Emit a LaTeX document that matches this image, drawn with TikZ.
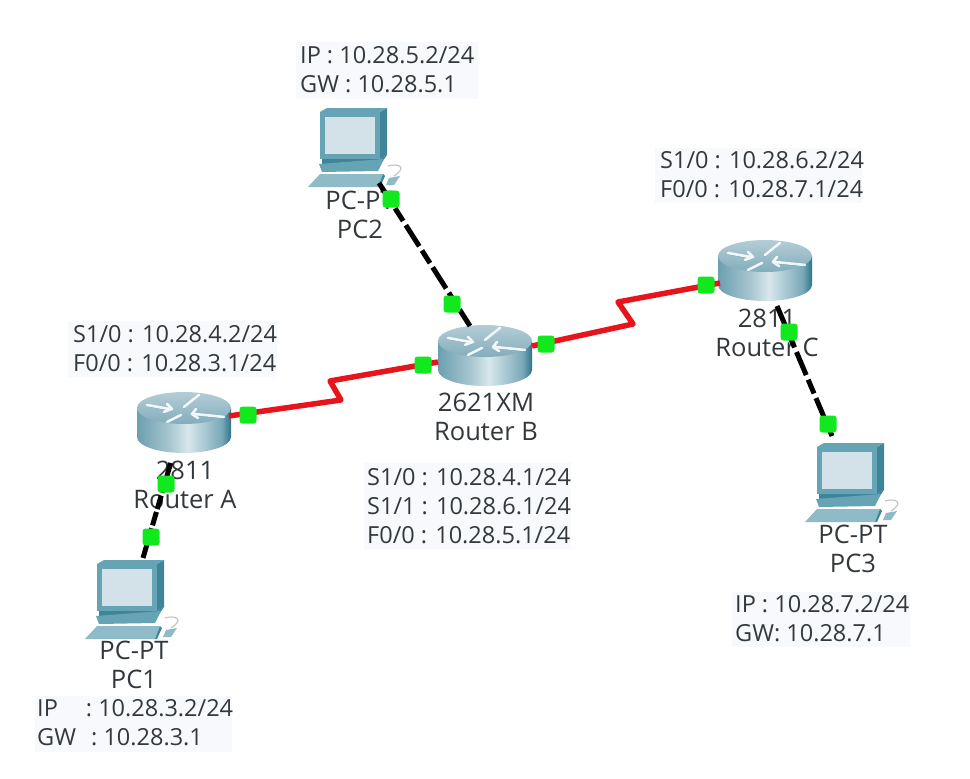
\documentclass[tikz,border=0pt]{standalone}
\usepackage{fontspec}
\setmainfont{Open Sans}
\definecolor{txt}{HTML}{33383C}
\definecolor{lblbg}{HTML}{F8F9FD}
\definecolor{linkred}{HTML}{E8141C}
\definecolor{portgreen}{HTML}{12E81E}
\definecolor{pcdark}{HTML}{3F8599}
\definecolor{pcmid}{HTML}{66A3B5}
\definecolor{pclight}{HTML}{8FBBC9}
\definecolor{pcscreen}{HTML}{D3E1E9}
\definecolor{routerTopA}{HTML}{B4CDD7}
\definecolor{routerTopB}{HTML}{83ADBC}
\definecolor{routerS1}{HTML}{6B9FAF}
\definecolor{routerS2}{HTML}{A6C5CF}
\definecolor{routerS3}{HTML}{D8E7EC}
\definecolor{routerS4}{HTML}{79A9B8}
\definecolor{routerS5}{HTML}{2F7489}
\pgfdeclarehorizontalshading{routerside}{100bp}{
  color(0bp)=(routerS1);
  color(25bp)=(routerS1);
  color(42bp)=(routerS2);
  color(52bp)=(routerS3);
  color(70bp)=(routerS4);
  color(75bp)=(routerS5);
  color(100bp)=(routerS5)}
\tikzset{
  lbl/.style={font=\fontsize{23.5}{29}\selectfont, text=txt, inner sep=0pt, align=left, anchor=west},
  devlbl/.style={font=\fontsize{25.5}{29}\selectfont, text=txt, inner sep=0pt, align=center},
  port/.style={fill=portgreen, draw=none, rounded corners=3pt, minimum size=17pt, inner sep=0pt},
  serial/.style={draw=linkred, line width=5.5pt, line join=round},
  ether/.style={draw=black, line width=5pt, dash pattern=on 25pt off 5pt on 15pt off 5pt},
  etherb/.style={draw=black, line width=5pt, dash pattern=on 14pt off 3pt},
  anchorbox/.style={inner sep=0pt, minimum width=10pt, minimum height=10pt},
  router/.pic={
    \shade[shading=routerside]
      (-47,-9) -- (-47,20) arc[start angle=180,end angle=0,x radius=47,y radius=16] -- (47,-9) -- cycle;
    \shade[top color=routerTopA, bottom color=routerTopB]
      (0,-9) ellipse[x radius=47,y radius=16];
    \draw[pcdark, line width=1.2pt, line cap=round, line join=round, opacity=.6]
      (-37,-11) -- (-15,-7) (-17,-12) -- (-12,-7) -- (-20,-4)
      (15,-21) -- (0,-9) (10,-2) -- (40,1) (-17,6) -- (-3,-1);
    \draw[white, line width=2.6pt, line cap=round, line join=round, opacity=.9]
      (-37,-12) -- (-15,-8) (-17,-13) -- (-12,-8) -- (-20,-5)
      (15,-22) -- (0,-10) (10,-3) -- (40,0) (12,-8) -- (8,-3) -- (14,1)
      (-17,5) -- (-3,-2);
  },
  pcicon/.pic={
    % monitor
    \fill[pcdark] (30,-23) -- (37,-27) -- (37,20) -- (30,24) -- cycle;
    \fill[pcmid] (-30,-23) -- (-23,-27) -- (37,-27) -- (30,-23) -- cycle;
    \fill[pcmid] (-30,-23) rectangle (30,24);
    \fill[pcscreen] (-25,-18) rectangle (25,19);
    % stand and base
    \fill[pcdark] (-28,24) -- (30,24) -- (37,20) -- (30,30) -- (-28,30) -- cycle;
    \fill[pcmid] (-31,29) -- (34,24) -- (28,36) -- (-28,37) -- cycle;
    % keyboard
    \fill[pclight] (-30,39) -- (33,39) -- (28,52) -- (-42,52) -- cycle;
    \fill[pcdark] (33,39) -- (35,41) -- (30,52) -- (28,52) -- cycle;
    % mouse
    \fill[pclight] (39,43) -- (50,41) -- (44,50) -- (36,50) -- cycle;
    \draw[gray!45, line width=1.2pt] (38,31) .. controls (48,28) and (58,32) .. (44,41);
  }
}
\begin{document}
\begin{tikzpicture}[x=1pt,y=-1pt]
\useasboundingbox (0,0) rectangle (970,779);
\fill[white] (0,0) rectangle (970,779);

% label backgrounds
\fill[lblbg] (296,42) rectangle (478,99);
\fill[lblbg] (655,148) rectangle (862,203);
\fill[lblbg] (68,321) rectangle (277,377);
\fill[lblbg] (364,463) rectangle (571,549);
\fill[lblbg] (732,592) rectangle (910,647);
\fill[lblbg] (35,696) rectangle (232,752);

% devices
\pic at (350,135) {pcicon};
\pic at (127,587) {pcicon};
\pic at (847,470) {pcicon};
\pic at (184,417) {router};
\pic at (485,350) {router};
\pic at (765,265) {router};

% named anchors for the devices
\node[anchorbox] (pc2) at (379,183) {};
\node[anchorbox] (pc1) at (143,558) {};
\node[anchorbox] (pc3) at (832,436) {};
\node[anchorbox] (ra)  at (171,462) {};
\node[anchorbox] (rawest) at (229,416) {};
\node[anchorbox] (rbn) at (470,326) {};
\node[anchorbox] (rbw) at (438,362) {};
\node[anchorbox] (rbe) at (532,346) {};
\node[anchorbox] (rcw) at (720,283) {};
\node[anchorbox] (rcs) at (777,306) {};

% texts
\node[lbl] (t1) at (300,70) {IP : 10.28.5.2/24\\GW : 10.28.5.1};
\node[lbl] (t2) at (660,175) {S1/0 : 10.28.6.2/24\\F0/0 : 10.28.7.1/24};
\node[lbl] (t3) at (73,349) {S1/0 : 10.28.4.2/24\\F0/0 : 10.28.3.1/24};
\node[lbl] (t4) at (367,506) {S1/0 : 10.28.4.1/24\\S1/1 : 10.28.6.1/24\\F0/0 : 10.28.5.1/24};
\node[lbl] (t5) at (735,619) {IP : 10.28.7.2/24\\GW: 10.28.7.1};
\node[lbl] (t6) at (37,723) {IP\hspace{28pt}: 10.28.3.2/24\\GW\hspace{9pt} : 10.28.3.1};
\node[devlbl] (l1) at (360,215) {PC-PT\\PC2};
\node[devlbl] (l2) at (134,665) {PC-PT\\PC1};
\node[devlbl] (l3) at (853,549) {PC-PT\\PC3};
\node[devlbl] (l4) at (185,485) {2811\\Router A};
\node[devlbl] (l5) at (486,417) {2621XM\\Router B};
\node[devlbl] (l6) at (767,333) {2811\\Router C};

% connectors
\coordinate (z1) at (341,400);
\coordinate (z2) at (330,381);
\coordinate (z3) at (633,324);
\coordinate (z4) at (618,302);
\draw[serial] (rawest.center) -- (z1) -- (z2) -- (rbw.center);
\draw[serial] (rbe.center) -- (z3) -- (z4) -- (rcw.center);
\draw[ether] (pc2.center) -- (rbn.center);
\draw[etherb] (pc1.center) -- (ra.center);
\draw[ether] (rcs.center) -- (pc3.center);

% ports
\node[port] (p1) at (248,415) {};
\node[port] (p2) at (423,365) {};
\node[port] (p3) at (546,344) {};
\node[port] (p4) at (706,285) {};
\node[port] (p5) at (391,199) {};
\node[port] (p6) at (452,304) {};
\node[port] (p7) at (166,484) {};
\node[port] (p8) at (151,537) {};
\node[port] (p9) at (789,332) {};
\node[port] (p10) at (828,424) {};
\end{tikzpicture}
\end{document}
